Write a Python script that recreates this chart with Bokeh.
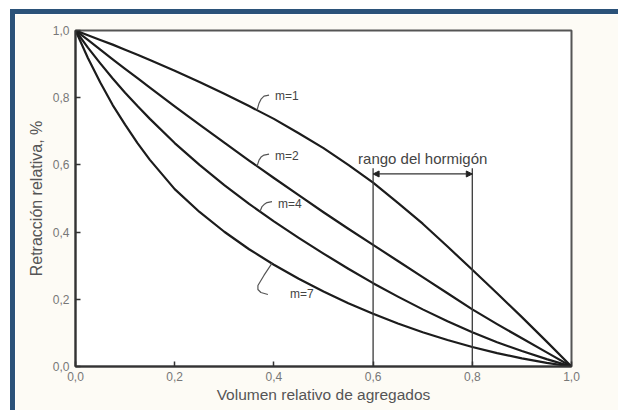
import numpy as np
from bokeh.plotting import figure
from bokeh.models import FixedTicker, Arrow, NormalHead, Label, Range1d
from bokeh.embed import file_html
from bokeh.resources import INLINE

# Relative aggregate volume (x) and relative shrinkage for each modular ratio m
x_vol = [0.000, 0.025, 0.050, 0.075, 0.100, 0.125, 0.150, 0.200, 0.250, 0.300, 0.350,
         0.400, 0.450, 0.500, 0.550, 0.600, 0.650, 0.700, 0.750, 0.800, 0.850,
         0.900, 0.950, 1.000]
retr_m1 = [1.000, 0.986, 0.972, 0.958, 0.943, 0.928, 0.912, 0.880, 0.847, 0.812, 0.775,
           0.737, 0.694, 0.650, 0.600, 0.547, 0.487, 0.425, 0.357, 0.288, 0.218,
           0.147, 0.074, 0.000]
retr_m2 = [1.000, 0.972, 0.943, 0.914, 0.886, 0.858, 0.830, 0.774, 0.720, 0.666, 0.613,
           0.561, 0.510, 0.459, 0.410, 0.362, 0.314, 0.266, 0.218, 0.170, 0.126,
           0.084, 0.042, 0.000]
retr_m4 = [1.000, 0.949, 0.902, 0.857, 0.815, 0.775, 0.737, 0.665, 0.600, 0.540, 0.484,
           0.432, 0.383, 0.336, 0.291, 0.248, 0.208, 0.170, 0.135, 0.102, 0.072,
           0.046, 0.022, 0.000]
retr_m7 = [1.000, 0.918, 0.845, 0.778, 0.720, 0.665, 0.615, 0.528, 0.460, 0.401, 0.349,
           0.303, 0.261, 0.223, 0.188, 0.157, 0.128, 0.102, 0.079, 0.058, 0.040,
           0.024, 0.011, 0.000]
curve_labels = ["m=1", "m=2", "m=4", "m=7"]

tick_values = [0.0, 0.2, 0.4, 0.6, 0.8, 1.0]
tick_labels = ["0,0", "0,2", "0,4", "0,6", "0,8", "1,0"]

range_start = 0.6
range_end = 0.8
range_top = 0.59
range_arrow_y = 0.573
range_label = "rango del hormigón"

x_title = "Volumen relativo de agregados"
y_title = "Retracción relativa, %"

FONT = "Liberation Sans"
INK = "#1c1c1c"
FRAME_BLUE = "#2b5279"
W, H = 618, 410            # page size
PAD_L, PAD_T = 10, 9       # gap outside the blue frame
BAR = 5                    # blue frame thickness (drawn as box shadows)
OX, OY = PAD_L + BAR, PAD_T + BAR
# plot frame edges, measured on the page
LEFT, RIGHT, TOP, BOTTOM = 75, 571, 30, 366

p = figure(width=W - OX, height=H - OY, output_backend="svg", toolbar_location=None,
           x_range=Range1d(0, 1), y_range=Range1d(0, 1),
           min_border_left=LEFT - OX, min_border_right=W - RIGHT,
           min_border_top=TOP - OY, min_border_bottom=H - BOTTOM)
p.margin = (OY, 0, 0, OX)
p.background_fill_color = "white"
p.border_fill_color = "#fdfbf5"
p.outline_line_color = "#555555"
p.outline_line_width = 2
p.grid.visible = False
# blue L-shaped frame along the top and left edges
p.styles = {"box-shadow": (f"-{BAR}px -{BAR}px 0 0 {FRAME_BLUE}, "
                           f"0 -{BAR}px 0 0 {FRAME_BLUE}, "
                           f"-{BAR}px 0 0 0 {FRAME_BLUE}")}

for ax in (p.xaxis[0], p.yaxis[0]):
    ax.ticker = FixedTicker(ticks=tick_values)
    ax.major_label_overrides = {v: t for v, t in zip(tick_values, tick_labels)}
    ax.major_tick_in = 5
    ax.major_tick_out = 0
    ax.minor_tick_line_color = None
    ax.major_tick_line_color = "#333333"
    ax.major_tick_line_width = 1.5
    ax.axis_line_color = "#333333"
    ax.axis_line_width = 2
    ax.major_label_text_font = FONT
    ax.major_label_text_font_size = "12px"
    ax.major_label_text_color = "#777777"
    ax.axis_label_text_font = FONT
    ax.axis_label_text_font_style = "normal"
    ax.axis_label_text_color = "#555555"

p.xaxis.axis_label = x_title
p.xaxis.axis_label_text_font_size = "15.5px"
p.xaxis.major_label_standoff = 5
p.xaxis.axis_label_standoff = 2
p.yaxis.axis_label = y_title
p.yaxis.axis_label_text_font_size = "16px"
p.yaxis.major_label_standoff = 6
p.yaxis.axis_label_standoff = 5

# shrinkage curves
series = [retr_m1, retr_m2, retr_m4, retr_m7]
for ys in series:
    p.line(x_vol, ys, line_color=INK, line_width=2.2, line_join="round")

# concrete range: two verticals and a double arrow
p.segment(x0=[range_start, range_end], y0=[0, 0],
          x1=[range_start, range_end], y1=[range_top, range_top],
          line_color="#3a3a3a", line_width=1.3)
p.add_layout(Arrow(x_start=range_start, x_end=range_end,
                   y_start=range_arrow_y, y_end=range_arrow_y,
                   line_color="#333333", line_width=1.2,
                   start=NormalHead(size=6, fill_color="#222222", line_color="#222222"),
                   end=NormalHead(size=6, fill_color="#222222", line_color="#222222")))
p.add_layout(Label(x=(range_start + range_end) / 2, y=range_top + 0.028,
                   text=range_label, text_align="center", text_baseline="middle",
                   text_font=FONT, text_font_size="15px", text_color="#444444"))

# leader brackets from each curve to its label (offsets in pixels)
px = 1.0 / (RIGHT - LEFT)
py = 1.0 / (BOTTOM - TOP)
leader_x = [0.366, 0.366, 0.372, 0.396]
leader_shapes = [
    [(0, 0), (2, 7), (4, 11), (7, 14), (12, 15)],
    [(0, 0), (2, 6), (4, 9), (7, 11), (12, 12)],
    [(0, 0), (2, 5), (4, 7), (7, 9), (12, 10)],
    [(0, 0), (-8, -12), (-14, -22), (-14, -26), (-11, -29), (-4, -31)],
]
label_dy = [14, 10, 8, -31]
for name, ys, lx, shape, dy in zip(curve_labels, series, leader_x, leader_shapes, label_dy):
    y0 = float(np.interp(lx, x_vol, ys))
    p.line([lx + sx * px for sx, _ in shape], [y0 + sy * py for _, sy in shape],
           line_color="#555555", line_width=1.2)
    p.add_layout(Label(x=lx + 18 * px, y=y0 + dy * py, text=name,
                       text_align="left", text_baseline="middle",
                       text_font=FONT, text_font_size="12px", text_color="#444444"))

open("out.html", "w").write(file_html(p, INLINE))
